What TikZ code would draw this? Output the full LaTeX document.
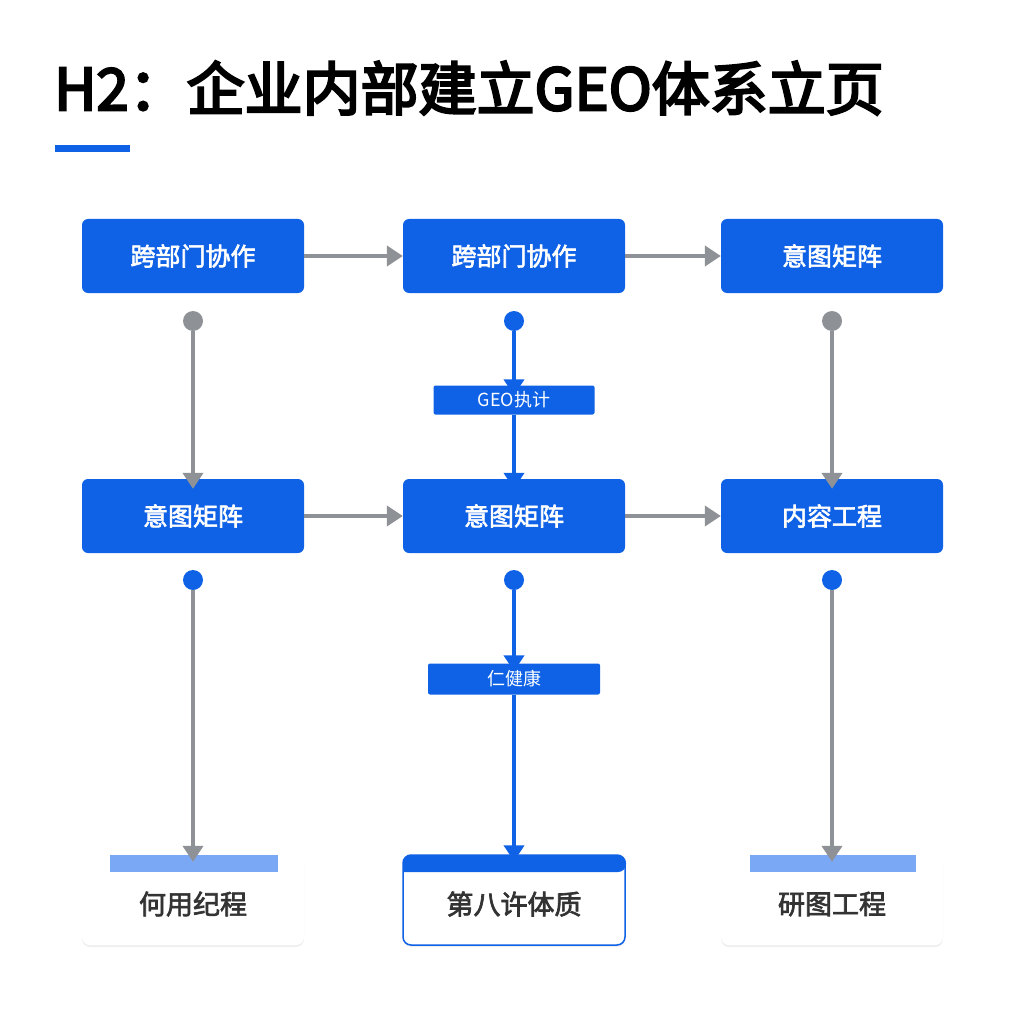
\documentclass[tikz,border=0pt]{standalone}
\usepackage{fontspec}
\newfontfamily\cjk{Noto Sans CJK SC}
\newfontfamily\cjkb{Noto Sans CJK SC}[FakeBold=2.5]
\newfontfamily\cjkh{Noto Sans CJK SC}[FakeBold=4]
\usetikzlibrary{arrows.meta,shadows}
\definecolor{bl}{HTML}{0F62E6}
\definecolor{lb}{HTML}{7BA8F5}
\definecolor{gr}{HTML}{8E9196}
\begin{document}
\begin{tikzpicture}[x=1pt,y=-1pt,
 box/.style={fill=bl,rounded corners=6pt,minimum width=222pt,minimum height=74pt,text=white,font=\cjkb\fontsize{25}{28}\selectfont},
 lab/.style={fill=bl,rounded corners=2pt,text=white,font=\cjk\fontsize{18}{20}\selectfont,inner sep=0pt},
 card/.style={fill=white,rounded corners=8pt,minimum width=222pt,minimum height=90pt,drop shadow={opacity=0.12,shadow xshift=0pt,shadow yshift=-2pt}},
 ga/.style={draw=gr,line width=4pt,-{Triangle[length=16pt,width=20pt]}},
 ba/.style={draw=bl,line width=4pt,-{Triangle[length=16pt,width=20pt]}},
 dot/.style={circle,inner sep=0pt,minimum size=20pt}]
\useasboundingbox (0,0) rectangle (1024,1024);
\fill[white] (0,0) rectangle (1024,1024);
\node[anchor=west,font=\cjkh\fontsize{58}{62}\selectfont,inner sep=0pt] (t) at (54,88) {H2：企业内部建立GEO体系立页};
\fill[bl] (55,145) rectangle (130,152);
\node[box] (a1) at (193,256) {跨部门协作};
\node[box] (a2) at (514,256) {跨部门协作};
\node[box] (a3) at (832,256) {意图矩阵};
\node[box] (b1) at (193,516) {意图矩阵};
\node[box] (b2) at (514,516) {意图矩阵};
\node[box] (b3) at (832,516) {内容工程};
\node[card] (c1) at (193,900) {};
\node[card,draw=bl,line width=1.5pt] (c2) at (514,900) {};
\node[card] (c3) at (832,900) {};
\fill[lb] (110,855) rectangle (278,872);
\fill[lb] (750,855) rectangle (916,872);
\fill[bl,rounded corners=8pt] (403,872) -- (403,855) -- (626,855) -- (626,872) [sharp corners]-- cycle;
\node[font=\cjkb\fontsize{27}{30}\selectfont,text=black!80] at (193,904) {何用纪程};
\node[font=\cjkb\fontsize{27}{30}\selectfont,text=black!80] at (514,904) {第八许体质};
\node[font=\cjkb\fontsize{27}{30}\selectfont,text=black!80] at (832,904) {研图工程};
\node[lab,minimum width=161pt,minimum height=29pt] (l1) at (514,400) {GEO执计};
\node[lab,minimum width=172pt,minimum height=31pt] (l2) at (514,679) {仁健康};
\node[dot,fill=gr] (d1) at (193,321) {};
\node[dot,fill=bl] (d2) at (514,321) {};
\node[dot,fill=gr] (d3) at (832,321) {};
\node[dot,fill=bl] (e1) at (193,580) {};
\node[dot,fill=bl] (e2) at (514,580) {};
\node[dot,fill=bl] (e3) at (832,580) {};
\draw[ga] (a1) -- (a2);
\draw[ga] (a2) -- (a3);
\draw[ga] (b1) -- (b2);
\draw[ga] (b2) -- (b3);
\draw[ga] (d1) -- ([yshift=-10pt]b1.north);
\draw[ga] (d3) -- ([yshift=-10pt]b3.north);
\draw[ba] (d2) -- ([yshift=-10pt]l1.north);
\draw[ba] (l1) -- ([yshift=-10pt]b2.north);
\draw[ga] (e1) -- ([yshift=-7pt]c1.north);
\draw[ga] (e3) -- ([yshift=-7pt]c3.north);
\draw[ba] (e2) -- ([yshift=-8pt]l2.north);
\draw[ba] (l2) -- ([yshift=-7pt]c2.north);
\end{tikzpicture}
\end{document}
